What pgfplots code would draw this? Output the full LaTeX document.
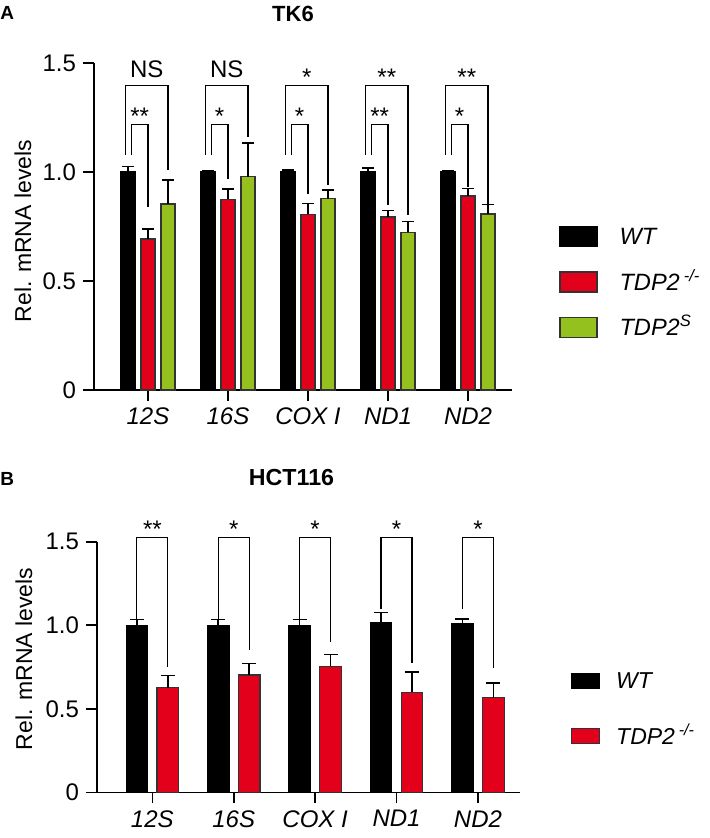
\documentclass[border=0pt]{standalone}
\usepackage{fontspec}
\setmainfont{Liberation Sans}
\usepackage{pgfplots}
\usepackage{pgfplotstable}
\pgfplotsset{compat=1.18}

\definecolor{tdpred}{RGB}{226,0,26}
\definecolor{tdpgreen}{RGB}{149,193,31}

% TK6: WT, TDP2-/-, TDP2S (mean, upper SEM)
\pgfplotstableread{
cat wt wterr ko koerr s serr
0 1.000 0.025 0.693 0.045 0.853 0.110
1 1.000 0.004 0.875 0.047 0.979 0.155
2 1.000 0.010 0.806 0.050 0.878 0.040
3 1.000 0.017 0.794 0.030 0.723 0.050
4 1.000 0.007 0.890 0.035 0.807 0.043
}\tkdata

% HCT116: WT, TDP2-/-
\pgfplotstableread{
cat wt wterr ko koerr
0 1.000 0.035 0.626 0.072
1 1.000 0.035 0.702 0.068
2 1.000 0.035 0.754 0.072
3 1.016 0.060 0.599 0.120
4 1.008 0.030 0.566 0.087
}\hctdata

\pgfplotsset{
  gp/.style={
    scale only axis, clip=false,
    axis x line=bottom, axis y line=left,
    axis line style={-, line width=0.8pt},
    every tick/.style={black, line width=0.8pt},
    tick align=outside, major tick length=5.5pt,
    ymin=0, ymax=1.5, ytick={0,0.5,1,1.5}, yticklabels={0,0.5,1.0,1.5},
    xtick={0,1,2,3,4}, xticklabels={12S,16S,COX I,ND1,ND2},
    xticklabel style={font=\fontsize{12}{14}\selectfont\itshape},
    yticklabel style={font=\fontsize{12}{14}\selectfont},
    ylabel={Rel. mRNA levels},
    ylabel style={font=\fontsize{11.5}{14}\selectfont, anchor=center},
  },
  eb/.style={
    /pgfplots/error bars/y dir=plus,
    /pgfplots/error bars/y explicit,
    /pgfplots/error bars/error bar style={line width=0.8pt, black},
    /pgfplots/error bars/error mark options={rotate=90, mark size=#1, line width=0.8pt, black},
  },
}

% bracket: x-left, x-right, y-left-bottom, y-top, y-right-bottom
\newcommand{\brk}[5]{\draw[line width=0.6pt] (axis cs:#1,#3) |- (axis cs:#2,#4) -- (axis cs:#2,#5);}
\newcommand{\sig}[3]{\node[anchor=base, inner sep=0pt, font=\fontsize{12}{14}\selectfont] at (axis cs:#1,#2) {#3};}

\begin{document}
\begin{tikzpicture}
\useasboundingbox (0,0) rectangle (354.5pt,-419pt);

\node[anchor=base west, inner sep=0pt, font=\bfseries\fontsize{9.5}{10}\selectfont] at (0pt,-10pt) {A};
\node[anchor=base, inner sep=0pt, font=\bfseries\fontsize{11}{12}\selectfont] at (146.5pt,-10.85pt) {TK6};

\begin{axis}[gp,
    at={(47pt,-195pt)}, anchor=south west,
    width=209pt, height=163.5pt,
    xmin=-0.675, xmax=4.55,
    ybar=3pt, bar width=7pt,
    ylabel style={at={(axis description cs:-0.17,0.486)}},
    legend style={at={(1.1132,0.5015)}, anchor=north west, draw=none, fill=none,
      inner sep=0pt, outer sep=0pt, row sep=12.1pt,
      font=\fontsize{11.8}{14}\selectfont\itshape,
      nodes={inner sep=0pt, text height=0pt, text depth=0pt},
      cells={anchor=base west}},
    legend image code/.code={\draw[#1, line width=0.6pt] (0pt,-0.85pt) rectangle (18.5pt,9.15pt); \path (29.5pt,4pt);},
  ]
  \addplot[fill=black, draw=black, line width=0.6pt, eb=3pt] table[x=cat, y=wt, y error=wterr]{\tkdata};
  \addplot[fill=tdpred, draw=black!80, line width=0.6pt, eb=3pt] table[x=cat, y=ko, y error=koerr]{\tkdata};
  \addplot[fill=tdpgreen, draw=black!80, line width=0.6pt, eb=3pt] table[x=cat, y=s, y error=serr]{\tkdata};
  \addlegendentry{WT}
  \addlegendentry{TDP2\,\textsuperscript{-/-}}
  \addlegendentry{TDP2\textsuperscript{S}}

  \draw[line width=0.8pt] (rel axis cs:0,0) -- ++(-5pt,0pt);

  % outer brackets (WT vs TDP2S)
  \brk{-0.28}{0.25}{1.078}{1.396}{1.009}
  \brk{0.72}{1.25}{1.078}{1.396}{1.162}
  \brk{1.72}{2.25}{1.078}{1.396}{0.940}
  \brk{2.72}{3.25}{1.078}{1.396}{0.803}
  \brk{3.72}{4.25}{1.078}{1.396}{0.853}
  % inner brackets (WT vs TDP2-/-)
  \brk{-0.21}{0}{1.078}{1.219}{0.839}
  \brk{0.79}{1}{1.078}{1.219}{0.968}
  \brk{1.79}{2}{1.078}{1.219}{0.899}
  \brk{2.79}{3}{1.078}{1.219}{0.849}
  \brk{3.79}{4}{1.078}{1.219}{0.930}

  \sig{-0.015}{1.434}{NS}
  \sig{0.985}{1.434}{NS}
  \sig{1.985}{1.396}{*}
  \sig{2.985}{1.396}{**}
  \sig{3.985}{1.396}{**}
  \sig{-0.105}{1.219}{**}
  \sig{0.895}{1.219}{*}
  \sig{1.895}{1.219}{*}
  \sig{2.895}{1.219}{**}
  \sig{3.895}{1.219}{*}
\end{axis}

\node[anchor=base west, inner sep=0pt, font=\bfseries\fontsize{9.5}{10}\selectfont] at (0pt,-242.5pt) {B};
\node[anchor=base, inner sep=0pt, font=\bfseries\fontsize{11.6}{12}\selectfont] at (145.75pt,-242.5pt) {HCT116};

\begin{axis}[gp,
    at={(48.5pt,-396.15pt)}, anchor=south west,
    width=211.5pt, height=125.3pt,
    xmin=-0.68, xmax=4.517,
    ybar=4.7pt, bar width=10.75pt,
    ylabel style={at={(axis description cs:-0.1726,0.532)}},
    legend style={at={(1.1199,0.478)}, anchor=north west, draw=none, fill=none,
      inner sep=0pt, outer sep=0pt, row sep=18.85pt,
      font=\fontsize{11.5}{14}\selectfont\itshape,
      nodes={inner sep=0pt, text height=0pt, text depth=0pt},
      cells={anchor=base west}},
    legend image code/.code={\draw[#1, line width=0.6pt] (0pt,0.4pt) rectangle (14pt,7.9pt); \path (22.15pt,4pt);},
  ]
  \addplot[fill=black, draw=black, line width=0.6pt, eb=3.5pt] table[x=cat, y=wt, y error=wterr]{\hctdata};
  \addplot[fill=tdpred, draw=black!80, line width=0.6pt, eb=3.5pt] table[x=cat, y=ko, y error=koerr]{\hctdata};
  \addlegendentry{WT}
  \addlegendentry{TDP2\,\textsuperscript{-/-}}

  \draw[line width=0.8pt] (rel axis cs:0,0) -- ++(-5pt,0pt);

  \brk{-0.19}{0.19}{1.037}{1.525}{0.752}
  \brk{0.81}{1.19}{1.037}{1.525}{0.852}
  \brk{1.81}{2.19}{1.037}{1.525}{0.902}
  \brk{2.81}{3.19}{1.100}{1.525}{0.776}
  \brk{3.81}{4.19}{1.100}{1.525}{0.742}

  \sig{0}{1.525}{**}
  \sig{1}{1.525}{*}
  \sig{2}{1.525}{*}
  \sig{3}{1.525}{*}
  \sig{4}{1.525}{*}
\end{axis}
\end{tikzpicture}
\end{document}
